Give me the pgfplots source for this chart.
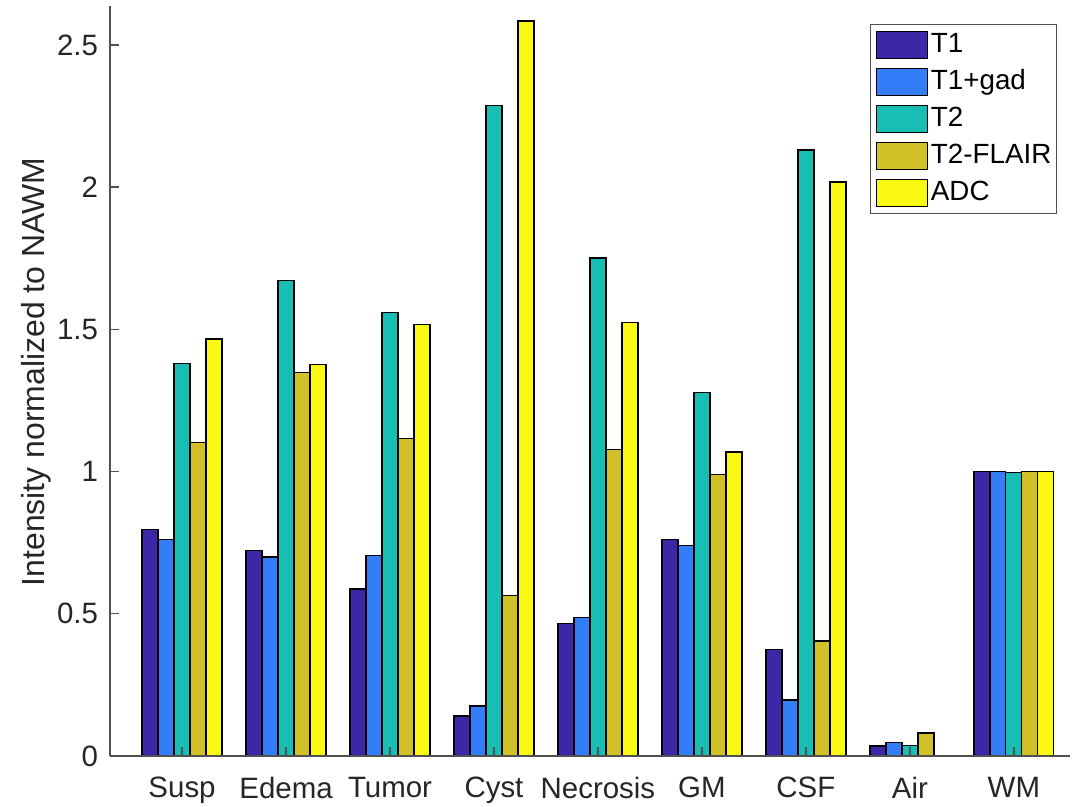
\documentclass[border=0pt]{standalone}
\usepackage{pgfplots}
\pgfplotsset{compat=1.18}
\usepackage{pgfplotstable}
\usepackage{fontspec}
\setmainfont{Liberation Sans}
\definecolor{cA}{RGB}{62,38,168}
\definecolor{cB}{RGB}{51,125,248}
\definecolor{cC}{RGB}{24,190,180}
\definecolor{cD}{RGB}{210,192,40}
\definecolor{cE}{RGB}{249,249,20}
\definecolor{axc}{RGB}{80,80,80}
\pgfplotstableread{
x T1 T1g T2 FL ADC
1 0.797 0.762 1.381 1.103 1.466
2 0.723 0.700 1.672 1.347 1.377
3 0.587 0.706 1.560 1.117 1.517
4 0.141 0.176 2.286 0.564 2.584
5 0.465 0.488 1.751 1.078 1.525
6 0.760 0.739 1.277 0.990 1.069
7 0.374 0.197 2.131 0.404 2.018
8 0.035 0.047 0.038 0.081 0.000
9 1.000 1.000 0.997 1.000 1.000
}\data
\begin{document}
\begin{tikzpicture}
\begin{axis}[
  name=ax,
  scale only axis,
  width=345.6pt, height=270pt,
  xmin=0.307, xmax=9.54,
  ymin=0, ymax=2.637,
  axis x line*=bottom, axis y line*=left,
  axis line style={axc, line width=0.5pt, -},
  tick align=inside,
  major tick length=3.2pt,
  tick style={axc, line width=0.5pt},
  xtick={1,...,9},
  xticklabels={Susp,Edema,Tumor,Cyst,Necrosis,GM,CSF,Air,WM},
  ytick={0,0.5,1,1.5,2,2.5},
  /pgf/number format/assume math mode=true,
  ticklabel style={font=\fontsize{10.6}{12.7}\selectfont, text=black!85},
  xticklabel style={yshift=-4pt},
  yticklabel style={xshift=-0.8pt},
  ylabel={Intensity normalized to NAWM},
  ylabel style={at={(axis description cs:-0.0771,0.512)}, anchor=center, font=\fontsize{11.5}{13.5}\selectfont, text=black!85},
  axis on top,
  legend image code/.code={\draw[#1, draw=black, line width=0.4pt] (0pt,-4.85pt) rectangle (18.4pt,4.85pt);},
  legend style={at={(rel axis cs:0.9865,0.976)}, anchor=north east,
    draw=axc, line width=0.5pt, font=\fontsize{10}{12}\selectfont,
    inner xsep=1.8pt, inner ysep=2.2pt, row sep=3.26pt, column sep=1.1pt,
    nodes={inner sep=0pt, text height=7.5pt, text depth=2.2pt}},
  legend cell align=left,
  every axis plot/.append style={ybar, bar width=0.1538, draw=black, line width=0.45pt},
]
\addplot[fill=cA, bar shift=-0.3077] table[x=x,y=T1]{\data};
\addplot[fill=cB, bar shift=-0.1538] table[x=x,y=T1g]{\data};
\addplot[fill=cC, bar shift=0] table[x=x,y=T2]{\data};
\addplot[fill=cD, bar shift=0.1538] table[x=x,y=FL]{\data};
\addplot[fill=cE, bar shift=0.3077] table[x=x,y=ADC]{\data};
\legend{T1,T1+gad,T2,T2-FLAIR,ADC}
\end{axis}
\pgfresetboundingbox
\path (ax.south west) ++(-39.6pt,-18.36pt) rectangle ++(388.8pt,290.52pt);
\end{tikzpicture}
\end{document}
